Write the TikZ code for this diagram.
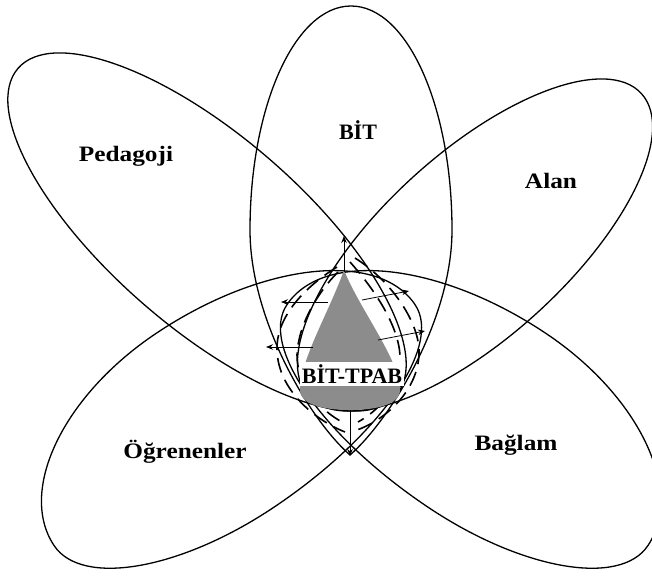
\documentclass[tikz,border=0pt]{standalone}
\usepackage{fontspec}
\setmainfont{Liberation Serif}
\newfontfamily\widefont[FakeStretch=1.15]{Liberation Serif}
\usetikzlibrary{arrows.meta}
\begin{document}
\begin{tikzpicture}[x=1pt,y=1pt,
  petal/.style={draw=black, line width=1.3pt},
  lbl/.style={font=\widefont\bfseries\fontsize{22}{26}\selectfont, inner sep=1pt},
  lblcaps/.style={font=\bfseries\fontsize{22}{26}\selectfont, inner sep=1pt},
  growarrow/.style={draw=black, line width=0.8pt, -{Stealth[length=7pt,width=5.5pt]}},
  dashline/.style={draw=black, line width=1.6pt, dash pattern=on 15pt off 8pt}]
\useasboundingbox (0,0) rectangle (652,-578);
% vertical egg (BIT)
\draw[petal] (351,-6) .. controls (407,-6) and (452,-106) .. (452,-230)
  .. controls (452,-320) and (390,-420) .. (350,-455)
  .. controls (310,-420) and (250,-320) .. (250,-230)
  .. controls (250,-106) and (295,-6) .. (351,-6) -- cycle;
% Pedagoji
\draw[petal, rotate around={-40.9:(207,-232)}] (207,-232) ellipse [x radius=250pt, y radius=96pt];
% Alan
\draw[petal, rotate around={42.3:(475,-245)}] (475,-245) ellipse [x radius=225pt, y radius=92pt];
% Baglam (egg)
\begin{scope}[shift={(479,-433)}, rotate=-33.7]
\draw[petal] (-231,0) .. controls (-231,66.2) and (-127.5,120) .. (0,120)
  .. controls (112,120) and (203,66.2) .. (203,0)
  .. controls (203,-49.7) and (112,-90) .. (0,-90)
  .. controls (-127.5,-90) and (-231,-49.7) .. (-231,0) -- cycle;
\end{scope}
% Ogrenenler (mirror of Baglam)
\begin{scope}[xshift=702pt, xscale=-1]
\begin{scope}[shift={(479,-433)}, rotate=-33.7]
\draw[petal] (-231,0) .. controls (-231,66.2) and (-127.5,120) .. (0,120)
  .. controls (112,120) and (203,66.2) .. (203,0)
  .. controls (203,-49.7) and (112,-90) .. (0,-90)
  .. controls (-127.5,-90) and (-231,-49.7) .. (-231,0) -- cycle;
\end{scope}
\end{scope}
% nested dashed outlines
\draw[dashline] (337,-267) .. controls (300,-290) and (276,-320) .. (277,-350) .. controls (278,-390) and (315,-420) .. (345,-432);
\draw[dashline] (338,-272) .. controls (318,-292) and (298,-325) .. (297,-355) .. controls (297,-385) and (320,-410) .. (342,-422);
\draw[dashline] (355,-258) .. controls (390,-280) and (418,-320) .. (419,-350) .. controls (420,-390) and (385,-420) .. (357,-430);
\draw[dashline] (350,-262) .. controls (375,-290) and (398,-325) .. (400,-355) .. controls (402,-385) and (380,-410) .. (358,-422);
% gray teardrop
\fill[fill={rgb,255:red,140;green,140;blue,140}] (344,-270) .. controls (330,-310) and (300,-360) .. (300,-390)
  .. controls (300,-405) and (325,-410) .. (350,-410)
  .. controls (375,-410) and (400,-405) .. (400,-390)
  .. controls (400,-360) and (360,-310) .. (344,-270) -- cycle;
% arrows
\coordinate (upS) at (344,-272); \coordinate (upE) at (344,-236);
\coordinate (l1S) at (328,-302); \coordinate (l1E) at (281,-302);
\coordinate (l2S) at (313,-347); \coordinate (l2E) at (266,-347);
\coordinate (r1S) at (362,-300); \coordinate (r1E) at (409,-291);
\coordinate (r2S) at (378,-340); \coordinate (r2E) at (425,-331);
\coordinate (dnS) at (350,-410); \coordinate (dnE) at (350,-456);
\draw[growarrow] (upS) -- (upE);
\draw[growarrow] (l1S) -- (l1E);
\draw[growarrow] (l2S) -- (l2E);
\draw[growarrow] (r1S) -- (r1E);
\draw[growarrow] (r2S) -- (r2E);
\draw[growarrow] (dnS) -- (dnE);
% labels
\node[lblcaps, fill=white, inner xsep=2pt, inner ysep=3pt] (tpab) at (352,-374) {BİT-TPAB};
\node[lblcaps] (bit) at (358,-130) {BİT};
\node[lbl] (ped) at (126,-156) {Pedagoji};
\node[lbl] (alan) at (551,-181) {Alan};
\node[lbl] (ogr) at (185,-452) {Öğrenenler};
\node[lbl] (bag) at (516,-445) {Bağlam};
\end{tikzpicture}
\end{document}
